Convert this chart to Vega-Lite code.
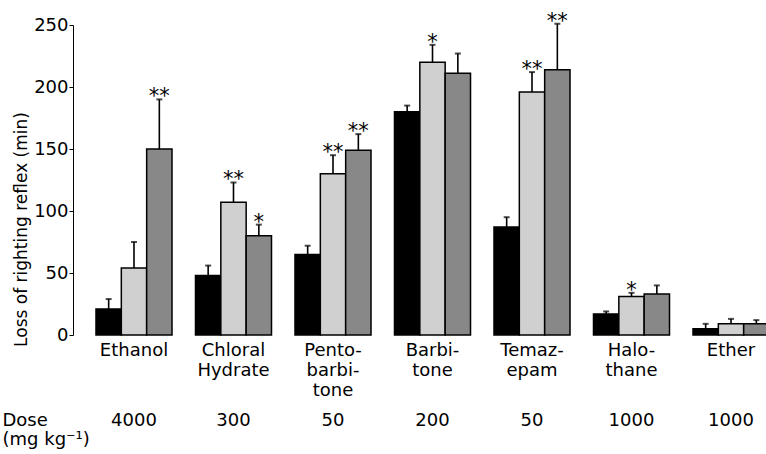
{
  "$schema": "https://vega.github.io/schema/vega-lite/v6.json",
  "autosize": "none",
  "width": 693,
  "height": 310,
  "padding": {"left": 73, "top": 25, "right": 0, "bottom": 119},
  "background": "white",
  "config": {
    "font": "DejaVu Sans",
    "view": {"stroke": null},
    "axis": {"grid": false, "labelColor": "black", "titleColor": "black", "domainColor": "black", "tickColor": "black", "titleFontWeight": "normal"}
  },
  "datasets": {
    "bars": [
      {"drug": "Ethanol", "dose": "4000", "group": "A", "value": 21, "upper": 29, "sig": ""},
      {"drug": "Ethanol", "dose": "4000", "group": "B", "value": 54, "upper": 75, "sig": ""},
      {"drug": "Ethanol", "dose": "4000", "group": "C", "value": 150, "upper": 190, "sig": "**"},
      {"drug": "Chloral\nHydrate", "dose": "300", "group": "A", "value": 48, "upper": 56, "sig": ""},
      {"drug": "Chloral\nHydrate", "dose": "300", "group": "B", "value": 107, "upper": 123, "sig": "**"},
      {"drug": "Chloral\nHydrate", "dose": "300", "group": "C", "value": 80, "upper": 89, "sig": "*"},
      {"drug": "Pento-\nbarbi-\ntone", "dose": "50", "group": "A", "value": 65, "upper": 72, "sig": ""},
      {"drug": "Pento-\nbarbi-\ntone", "dose": "50", "group": "B", "value": 130, "upper": 145, "sig": "**"},
      {"drug": "Pento-\nbarbi-\ntone", "dose": "50", "group": "C", "value": 149, "upper": 162, "sig": "**"},
      {"drug": "Barbi-\ntone", "dose": "200", "group": "A", "value": 180, "upper": 185, "sig": ""},
      {"drug": "Barbi-\ntone", "dose": "200", "group": "B", "value": 220, "upper": 234, "sig": "*"},
      {"drug": "Barbi-\ntone", "dose": "200", "group": "C", "value": 211, "upper": 227, "sig": ""},
      {"drug": "Temaz-\nepam", "dose": "50", "group": "A", "value": 87, "upper": 95, "sig": ""},
      {"drug": "Temaz-\nepam", "dose": "50", "group": "B", "value": 196, "upper": 212, "sig": "**"},
      {"drug": "Temaz-\nepam", "dose": "50", "group": "C", "value": 214, "upper": 251, "sig": "**"},
      {"drug": "Halo-\nthane", "dose": "1000", "group": "A", "value": 17, "upper": 19, "sig": ""},
      {"drug": "Halo-\nthane", "dose": "1000", "group": "B", "value": 31, "upper": 34, "sig": "*"},
      {"drug": "Halo-\nthane", "dose": "1000", "group": "C", "value": 33, "upper": 40, "sig": ""},
      {"drug": "Ether", "dose": "1000", "group": "A", "value": 5, "upper": 9, "sig": ""},
      {"drug": "Ether", "dose": "1000", "group": "B", "value": 9, "upper": 13, "sig": ""},
      {"drug": "Ether", "dose": "1000", "group": "C", "value": 9, "upper": 12, "sig": ""}
    ]
  },
  "data": {"name": "bars"},
  "resolve": {"axis": {"x": "independent"}},
  "encoding": {
    "x": {
      "field": "drug", "type": "nominal", "sort": null,
      "scale": {"range": [0, 719], "paddingInner": 0.236, "paddingOuter": 0.231}
    },
    "xOffset": {"field": "group", "type": "nominal", "scale": {"paddingInner": 0, "paddingOuter": 0}}
  },
  "layer": [
    {
      "mark": {"type": "rule", "stroke": "black", "strokeWidth": 1.6},
      "encoding": {
        "x": {
          "field": "drug", "type": "nominal", "sort": null,
          "axis": {
            "orient": "bottom", "offset": 85, "domain": false, "ticks": false,
            "labelAngle": 0, "labelFontSize": 18, "labelPadding": 0, "labelBaseline": "middle",
            "labelExpr": "data('bars')[indexof(pluck(data('bars'), 'drug'), datum.value)].dose",
            "title": ["Dose", "(mg kg⁻¹)"], "titleFontSize": 18, "titleAlign": "left", "titleAnchor": "start",
            "titleX": -71, "titleY": 0, "titleBaseline": "middle", "titleLineHeight": 19
          }
        },
        "y": {"field": "value", "type": "quantitative"},
        "y2": {"field": "upper"}
      }
    },
    {
      "mark": {"type": "bar", "stroke": "black", "strokeWidth": 1.5},
      "encoding": {
        "x": {
          "field": "drug", "type": "nominal", "sort": null,
          "axis": {
            "orient": "bottom", "domain": false, "ticks": false, "labelAngle": 0,
            "labelFontSize": 18, "labelPadding": 6, "labelBaseline": "top", "labelLineHeight": 20,
            "labelExpr": "split(datum.value, '\\n')", "title": null
          }
        },
        "y": {
          "field": "value", "type": "quantitative",
          "scale": {"domain": [0, 250], "nice": false},
          "axis": {
            "values": [0, 50, 100, 150, 200, 250], "tickSize": 4, "labelFontSize": 18, "labelPadding": 1,
            "title": "Loss of righting reflex (min)", "titleFontSize": 17,
            "titleX": -47, "titleY": 204, "titleBaseline": "alphabetic"
          }
        },
        "fill": {
          "field": "group", "type": "nominal", "legend": null,
          "scale": {"domain": ["A", "B", "C"], "range": ["#000000", "#d0d0d0", "#888888"]}
        }
      }
    },
    {
      "mark": {"type": "tick", "color": "black", "thickness": 2, "size": 6},
      "encoding": {
        "x": {"field": "drug", "type": "nominal", "sort": null, "axis": null},
        "y": {"field": "upper", "type": "quantitative"}
      }
    },
    {
      "mark": {"type": "text", "fontSize": 21, "baseline": "alphabetic", "dy": 4, "color": "black"},
      "encoding": {
        "x": {"field": "drug", "type": "nominal", "sort": null, "axis": null},
        "y": {"field": "upper", "type": "quantitative"},
        "text": {"field": "sig"}
      }
    }
  ]
}
